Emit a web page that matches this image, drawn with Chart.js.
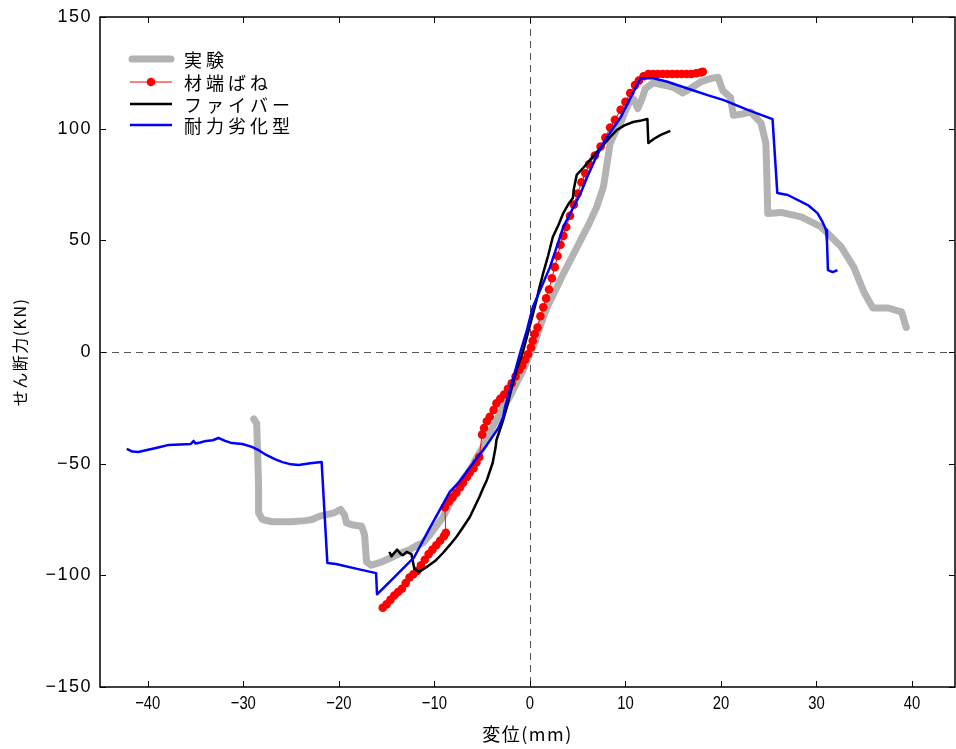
<!DOCTYPE html>
<html>
<head>
<meta charset="utf-8">
<script src="https://cdn.jsdelivr.net/npm/chart.js@4.4.1/dist/chart.umd.min.js"></script>
<style>
  html,body{margin:0;padding:0;background:#fff;}
  #wrap{width:956px;height:749px;}
</style>
</head>
<body>
<div id="wrap"><canvas id="c" width="956" height="749"></canvas></div>
<script>
// 実験 (experiment envelope)
const expData = [[-28.9,-30],[-28.6,-32],[-28.5,-45],[-28.4,-60],[-28.4,-72],[-28.0,-75],[-27.0,-76],[-25.0,-76],[-23.5,-75.5],[-22.8,-75],
  [-22.0,-73.5],[-20.5,-72],[-19.8,-70.5],[-19.4,-73],[-19.2,-76.5],[-18.5,-77.5],[-17.6,-78],[-17.3,-82],[-17.1,-94],[-16.6,-95.5],
  [-15.5,-94],[-14.5,-92],[-13.5,-90],[-12.6,-88.5],[-11.8,-86.5],[-11.2,-85.5],[-10.5,-82],[-9.8,-78],[-9.1,-74],[-8.4,-68],
  [-7.7,-62],[-7.0,-57],[-6.3,-53],[-5.6,-47.5],[-4.9,-42.5],[-4.2,-36],[-3.5,-30.5],[-2.8,-25],[-2.1,-20],[-1.4,-14],
  [-0.7,-8],[0,-1],[0.5,4],[1.2,13],[1.8,20],[2.6,27],[3.5,35],[4.4,42.5],[5.3,50],[6.2,57.5],[7.0,65],[7.7,74],[8.1,85],
  [8.4,93.5],[9.0,99],[9.5,102.5],[10.0,108],[10.5,112.5],[10.9,113],[11.3,109],[11.7,113],[12.1,118],[12.9,120.5],[14,119.5],
  [15,118.5],[16,116],[16.8,118],[17.9,121],[19,122.5],[19.7,123],[20.2,117],[21,114],[21.3,106],[22.2,106.5],[23.1,107.5],
  [24.2,102.5],[24.7,93.5],[24.8,80],[24.9,62],[26.3,62.5],[28.4,60.5],[30.5,56],[32.6,47],[33.9,38],[35,26.5],[35.9,19.7],
  [37.5,19.7],[38.9,18],[39.4,11]];

// 材端ばね
const springData = [[-15.4,-114.5],[-15.0,-113],[-14.6,-111],[-14.2,-109],[-13.8,-107.5],[-13.4,-106],[-13.0,-103.5],[-12.6,-101],
  [-12.2,-99.5],[-11.8,-98],[-11.4,-95.5],[-11.0,-93],[-10.6,-90.5],[-10.2,-88.5],[-9.8,-86.5],[-9.4,-84.5],[-9.0,-82.5],[-8.8,-81],
  [-8.9,-69.5],[-8.5,-67],[-8.1,-65],[-7.7,-63],[-7.3,-60.5],[-7.0,-58.5],[-6.6,-56],[-6.3,-54],[-5.9,-52],[-5.6,-49.5],[-5.3,-47],
  [-5.0,-37],[-4.8,-34],[-4.5,-31],[-4.2,-29],[-3.8,-26],[-3.5,-23],[-3.1,-21],[-2.7,-19],[-2.3,-16.5],[-1.9,-14],[-1.5,-11],
  [-1.1,-8],[-0.8,-6],[-0.5,-3.5],[-0.2,-1],[0.1,2],[0.3,5],[0.5,8],[0.8,11],[1.1,16],[1.4,20],[1.7,24],[2.0,28],[2.3,33],
  [2.6,38],[2.9,43],[3.2,48],[3.5,52],[3.8,56],[4.2,61],[4.6,66],[5.0,71],[5.4,76],[5.8,80],[6.2,84],[6.8,88],[7.4,92],
  [7.9,96],[8.4,100.5],[8.9,104],[9.5,108.5],[10.0,112],[10.5,116],[11.0,119.5],[11.4,121.5],[11.9,123.5],[12.4,124.5],
  [12.9,124.5],[13.4,124.5],[13.9,124.5],[14.4,124.5],[14.9,124.5],[15.4,124.5],[15.9,124.5],[16.4,124.5],[16.9,124.5],
  [17.4,124.8],[17.9,125.2],[18.1,125.5]];

// ファイバー
const fiberData = [[-14.7,-89.5],[-14.5,-91.5],[-13.9,-88.5],[-13.5,-90.5],[-13.3,-91],[-12.9,-89.5],[-12.4,-90.5],[-12.1,-97],
  [-11.6,-98.5],[-10.8,-96.3],[-9.9,-93.5],[-9.1,-90],[-8.4,-86.5],[-7.7,-82.8],[-7.0,-78.5],[-6.3,-74],[-5.8,-69.5],[-5.3,-65],
  [-4.9,-61],[-4.5,-57.3],[-3.9,-49.7],[-3.6,-43],[-3.5,-39.4],[-2.9,-31.8],[-2.4,-24.6],[-1.9,-16],[-1.4,-8],[-0.8,-1],
  [-0.3,7],[0.2,15],[0.7,23.3],[1.0,29],[1.4,35.4],[1.9,43],[2.4,51.5],[3.0,57],[3.5,62.2],[4.0,66],[4.5,69],[4.6,73],
  [4.9,79.3],[5.6,82.5],[6.3,86],[7.0,89.5],[7.7,92.7],[8.4,96.3],[9.1,99.4],[9.9,101.5],[10.8,103],[11.5,103.5],[12.3,104.3],
  [12.4,93.6],[13.0,95.5],[13.7,97.2],[14.7,99]];

// 耐力劣化型
const degradeData = [[-42.2,-43.4],[-41.6,-44.6],[-41,-44.8],[-40.2,-44],[-39.6,-43.4],[-38.7,-42.5],[-37.8,-41.6],[-36.6,-41.4],
  [-35.5,-41.2],[-35.2,-39.8],[-35.0,-41],[-34.5,-40.5],[-33.9,-39.8],[-33.2,-39.5],[-32.6,-38.5],[-31.9,-39.8],[-31.2,-40.8],
  [-30.1,-41.2],[-29.1,-42.5],[-28.3,-44.2],[-27.6,-46.1],[-26.7,-48],[-25.9,-49.3],[-25,-50.3],[-24.2,-50.6],[-23,-49.8],
  [-21.8,-49.3],[-21.2,-94.5],[-20.3,-94.9],[-18.2,-97],[-16.1,-99],[-16.0,-108.5],[-14,-100],[-12.1,-91.8],[-10.5,-79],
  [-8.4,-62.7],[-7.4,-58.2],[-6,-50],[-4.5,-41.6],[-3.3,-34],[-2.8,-29.1],[-2.6,-24.6],[-1.8,-12.5],[-1.0,0],[-0.3,9.9],
  [0.3,20],[1.2,29],[2.1,38],[2.8,47],[3.5,56],[4.4,63.5],[5.3,71],[6.0,78.4],[6.8,86],[7.7,93.6],[8.6,99.5],[9.5,105],
  [10.5,113.5],[11.6,122.6],[12.9,122.6],[14.4,121],[16.5,118],[18.6,115],[20.3,112.8],[22.8,108.4],[25.4,104.3],[25.9,71.2],
  [27,70.3],[29.1,65.8],[30.1,62.2],[30.6,58.5],[31,54.6],[31.1,49.3],[31.2,36.7],[31.7,35.8],[32.2,36.7]];

const xTicks = [-40,-30,-20,-10,0,10,20,30,40];
const yTicks = [-150,-100,-50,0,50,100,150];
const seriesNames = ['実験','材端ばね','ファイバー','耐力劣化型'];

const jpFont = '"Noto Sans CJK JP", sans-serif';
const numFont = '"Liberation Sans", Arial, sans-serif';
const fmt = v => String(v).replace('-', '\u2212');
const noPad = s => { s.paddingLeft = 0; s.paddingRight = 0; s.paddingTop = 0; s.paddingBottom = 0; };

const framePlugin = {
  id:'frame',
  beforeUpdate(chart){ chart.ctx.letterSpacing = '1.5px'; },
  beforeDraw(chart){ chart.ctx.letterSpacing = '1.5px'; },
  beforeDatasetsDraw(chart){
    const {ctx, chartArea:a, scales:{x,y}} = chart;
    ctx.save();
    ctx.strokeStyle = '#555';
    ctx.lineWidth = 1;
    ctx.setLineDash([7,5]);
    const x0 = Math.round(x.getPixelForValue(0)) + 0.5;
    const y0 = Math.round(y.getPixelForValue(0)) + 0.5;
    ctx.beginPath();
    ctx.moveTo(x0, a.top); ctx.lineTo(x0, a.bottom);
    ctx.moveTo(a.left, y0); ctx.lineTo(a.right, y0);
    ctx.stroke();
    ctx.restore();
  },
  afterDatasetsDraw(chart){
    const {ctx, chartArea:a, scales:{x,y}} = chart;
    ctx.save();
    ctx.strokeStyle = '#000';
    ctx.lineWidth = 1.5;
    ctx.strokeRect(a.left, a.top, a.right-a.left, a.bottom-a.top);
    ctx.lineWidth = 1;
    ctx.beginPath();
    xTicks.forEach(v => {
      const px = Math.round(x.getPixelForValue(v)) + 0.5;
      ctx.moveTo(px, a.bottom); ctx.lineTo(px, a.bottom-6);
      ctx.moveTo(px, a.top); ctx.lineTo(px, a.top+6);
    });
    yTicks.forEach(v => {
      const py = Math.round(y.getPixelForValue(v)) + 0.5;
      ctx.moveTo(a.left, py); ctx.lineTo(a.left+6, py);
      ctx.moveTo(a.right, py); ctx.lineTo(a.right-6, py);
    });
    ctx.stroke();

    // x tick labels, narrow like the original
    ctx.letterSpacing = '0px';
    ctx.fillStyle = '#000';
    ctx.font = '19px ' + numFont;
    ctx.textAlign = 'center';
    ctx.textBaseline = 'middle';
    xTicks.forEach(v => {
      const px = x.getPixelForValue(v);
      ctx.save();
      ctx.translate(px, a.bottom + 17);
      ctx.scale(0.78, 1);
      ctx.fillText(fmt(v), 0, 0);
      ctx.restore();
    });

    // legend
    const rows = [59, 82, 104, 125];
    ctx.textAlign = 'left';
    chart.data.datasets.forEach((ds, i) => {
      const ly = rows[i];
      ctx.beginPath();
      ctx.strokeStyle = ds.borderColor;
      ctx.lineWidth = ds.borderWidth;
      ctx.lineCap = i === 0 ? 'round' : 'butt';
      ctx.moveTo(i === 0 ? 132 : 130, ly); ctx.lineTo(i === 0 ? 171 : 172, ly);
      ctx.stroke();
      if (ds.pointRadius > 0) {
        ctx.beginPath();
        ctx.fillStyle = ds.pointBackgroundColor;
        ctx.arc(151, ly, ds.pointRadius, 0, Math.PI*2);
        ctx.fill();
      }
      ctx.fillStyle = '#000';
      ctx.font = '18px ' + jpFont;
      ctx.letterSpacing = '4px';
      ctx.fillText(ds.label, 184, ly + 1);
    });
    ctx.restore();
  }
};

new Chart(document.getElementById('c').getContext('2d'), {
  type:'scatter',
  data:{ datasets:[
    { label:seriesNames[0], data:expData, showLine:true, borderColor:'#b3b3b3', borderWidth:7,
      borderCapStyle:'round', borderJoinStyle:'round', pointRadius:0, order:4 },
    { label:seriesNames[1], data:springData, showLine:true, borderColor:'#ff0000', borderWidth:1,
      pointRadius:4.3, pointBackgroundColor:'#ff0000', pointBorderWidth:0, order:3 },
    { label:seriesNames[2], data:fiberData, showLine:true, borderColor:'#000000', borderWidth:2.5,
      borderJoinStyle:'round', pointRadius:0, order:2 },
    { label:seriesNames[3], data:degradeData, showLine:true, borderColor:'#0000ff', borderWidth:2.5,
      borderJoinStyle:'round', pointRadius:0, order:1 }
  ]},
  options:{
    responsive:false, animation:false,
    layout:{ autoPadding:false, padding:{ left:0, right:1, top:17, bottom:0 } },
    plugins:{ legend:{ display:false }, tooltip:{ enabled:false } },
    scales:{
      x:{ type:'linear', min:-45, max:44.5,
        afterBuildTicks: s => { s.ticks = xTicks.map(v => ({ value:v })); },
        afterFit: s => { s.height = 62; noPad(s); },
        grid:{ display:false, drawTicks:false }, border:{ display:false },
        ticks:{ display:false },
        title:{ display:true, text:'変位(mm)', color:'#000', font:{ family:jpFont, size:18 }, padding:{ top:36 } }
      },
      y:{ type:'linear', min:-150, max:150,
        afterBuildTicks: s => { s.ticks = yTicks.map(v => ({ value:v })); },
        afterFit: s => { s.width = 100; noPad(s); },
        grid:{ display:false, drawTicks:false }, border:{ display:false },
        ticks:{ color:'#000', padding:8, font:{ family:numFont, size:18 }, callback: v => fmt(v) },
        title:{ display:true, text:'せん断力(KN)', color:'#000', font:{ family:jpFont, size:16 }, padding:{ top:10, bottom:0 } }
      }
    }
  },
  plugins:[framePlugin]
});
</script>
</body>
</html>
